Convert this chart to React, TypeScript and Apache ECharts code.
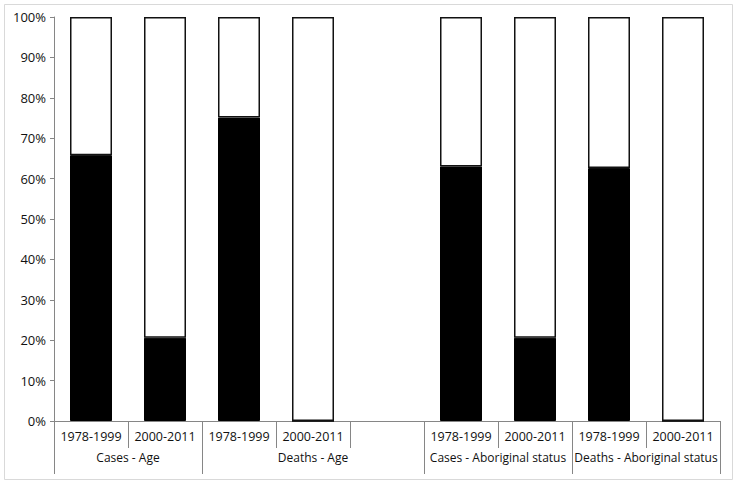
import React, { useEffect, useRef } from "react";
import * as echarts from "echarts";

const periods = ["1978-1999", "2000-2011", "1978-1999", "2000-2011", "", "1978-1999", "2000-2011", "1978-1999", "2000-2011"];
const blackValues: (number | string)[] = [65.8, 20.6, 75.1, 0, "-", 63.0, 20.6, 62.6, 0];
const whiteValues: (number | string)[] = [34.2, 79.4, 24.9, 100, "-", 37.0, 79.4, 37.4, 100];
const groupNames = ["Cases - Age", "Deaths - Age", "Cases - Aboriginal status", "Deaths - Aboriginal status"];
const groupCenters = [1, 3.5, 6, 8];
const groupBounds = [0, 2, 5, 7, 9];

const FONT = "Open Sans";
const AXIS = "#868686";

export default function App() {
  const ref = useRef<HTMLDivElement>(null);
  useEffect(() => {
    document.body.style.margin = "0";
    const chart = echarts.init(ref.current!, null, { renderer: "svg" });
    chart.setOption({
      animation: false,
      backgroundColor: "#fff",
      textStyle: { fontFamily: FONT },
      graphic: [
        {
          type: "rect",
          shape: { x: 4.5, y: 4.5, width: 728, height: 475 },
          style: { fill: "none", stroke: "#d9d9d9", lineWidth: 1 },
          silent: true,
        },
      ],
      grid: { left: 54, right: 18, top: 17, bottom: 64 },
      xAxis: [
        {
          type: "category",
          data: periods,
          axisLine: { show: true, lineStyle: { color: AXIS } },
          axisTick: { show: true, length: 27, lineStyle: { color: AXIS } },
          axisLabel: { color: "#111", fontSize: 12.5, fontFamily: FONT, margin: 9, interval: 0 },
          splitLine: { show: false },
        },
        {
          type: "value",
          min: 0,
          max: 9,
          position: "bottom",
          axisLine: { show: false },
          axisTick: { show: true, length: 53, lineStyle: { color: AXIS }, customValues: groupBounds },
          axisLabel: {
            show: true,
            color: "#111",
            fontSize: 12,
            fontFamily: FONT,
            margin: 30,
            customValues: groupCenters,
            formatter: (v: number) => {
              const i = groupCenters.indexOf(v);
              return i >= 0 ? groupNames[i] : "";
            },
          },
          splitLine: { show: false },
        },
      ],
      yAxis: {
        type: "value",
        min: 0,
        max: 100,
        interval: 10,
        axisLine: { show: true, lineStyle: { color: AXIS } },
        axisTick: { show: true, length: 4, lineStyle: { color: AXIS } },
        axisLabel: { formatter: "{value}%", color: "#111", fontSize: 13, fontFamily: FONT, margin: 8 },
        splitLine: { show: false },
      },
      series: [
        {
          type: "bar",
          stack: "total",
          data: blackValues,
          barWidth: 42,
          xAxisIndex: 0,
          itemStyle: { color: "#000", borderColor: "#000", borderWidth: 1 },
        },
        {
          type: "bar",
          stack: "total",
          data: whiteValues,
          barWidth: 42,
          xAxisIndex: 0,
          itemStyle: { color: "#fff", borderColor: "#111", borderWidth: 1.5 },
        },
      ],
    });
    return () => chart.dispose();
  }, []);
  return <div ref={ref} style={{ width: 738, height: 485 }} />;
}
